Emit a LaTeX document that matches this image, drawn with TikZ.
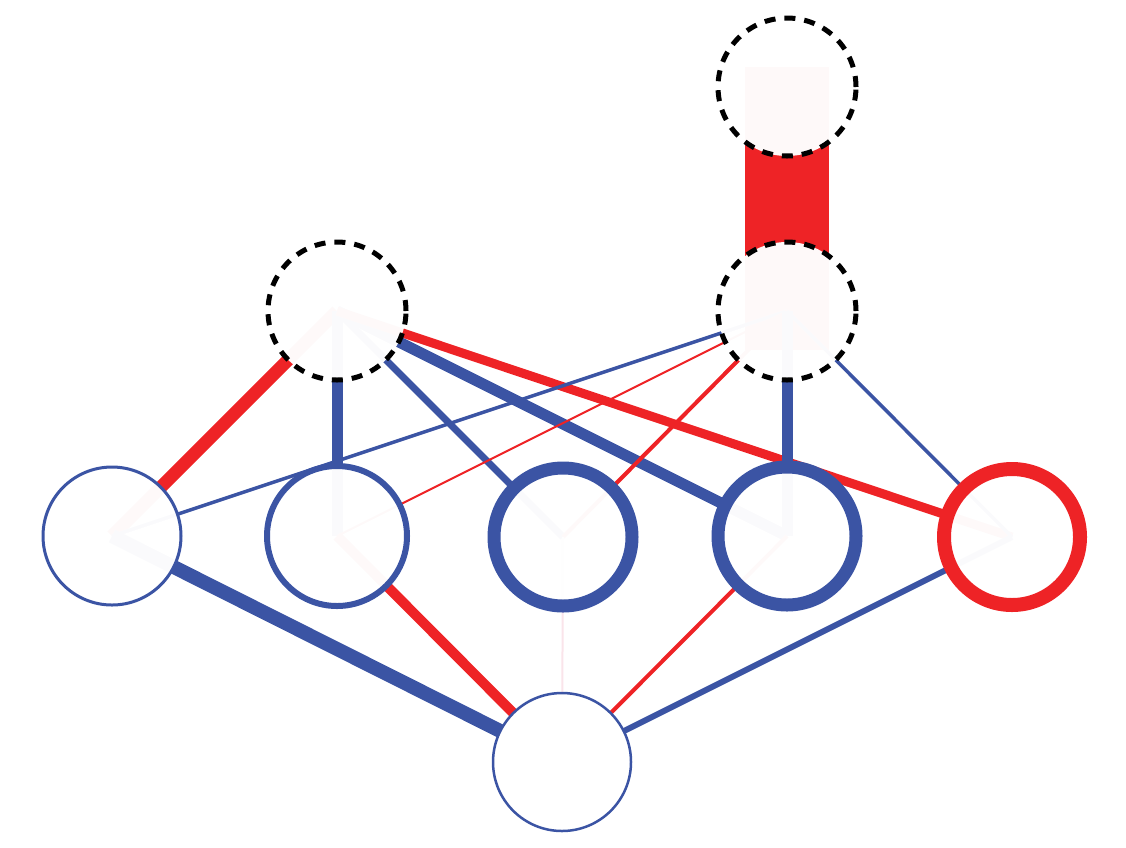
\documentclass[tikz,border=0pt]{standalone}
\usetikzlibrary{backgrounds}
\definecolor{nblue}{RGB}{59,84,164}
\definecolor{nred}{RGB}{238,35,38}
\definecolor{faint}{RGB}{250,228,234}
\begin{document}
\begin{tikzpicture}[x=1pt,y=-1pt,
  unit/.style={circle,inner sep=0pt,minimum size=138pt,fill=white,fill opacity=0.975,draw opacity=1},
  hidden/.style={unit,draw=black,line width=5pt,dash pattern=on 11pt off 9pt},
  edge/.style={line cap=butt}]
\useasboundingbox (0,0) rectangle (1126,847);
% hidden units
\node[hidden] (h3) at (787,87) {};
\node[hidden] (h2) at (787,311) {};
\node[hidden] (h1) at (337,311) {};
% visible units
\node[unit,draw=nblue,line width=3pt] (v1) at (112,536) {};
\node[unit,draw=nblue,line width=6pt,minimum size=140pt] (v2) at (337,536) {};
\node[unit,draw=nblue,line width=13pt] (v3) at (563,537) {};
\node[unit,draw=nblue,line width=13pt] (v4) at (787,536) {};
\node[unit,draw=nred,line width=14pt,minimum size=136pt] (v5) at (1012,537) {};
\node[unit,draw=nblue,line width=2.5pt,fill opacity=1] (b) at (562,762) {};
\begin{scope}[on background layer]
  \draw[edge,nred,line width=84pt,shorten <=-20pt,shorten >=-39pt] (h3.center) -- (h2.center);
  % from h1
  \draw[edge,nred,line width=13pt] (h1.center) -- (v1.center);
  \draw[edge,nblue,line width=11pt] (h1.center) -- (v2.center);
  \draw[edge,nblue,line width=7pt] (h1.center) -- (v3.center);
  \draw[edge,nblue,line width=11pt] (h1.center) -- (v4.center);
  \draw[edge,nred,line width=9pt] (h1.center) -- (v5.center);
  % from h2
  \draw[edge,nblue,line width=3.5pt] (h2.center) -- (v1.center);
  \draw[edge,nred,line width=2pt] (h2.center) -- (v2.center);
  \draw[edge,nred,line width=4pt] (h2.center) -- (v3.center);
  \draw[edge,nblue,line width=11pt] (h2.center) -- (v4.center);
  \draw[edge,nblue,line width=3.5pt] (h2.center) -- (v5.center);
  % from bottom
  \draw[edge,nblue,line width=14pt] (b.center) -- (v1.center);
  \draw[edge,nred,line width=10pt] (b.center) -- (v2.center);
  \draw[edge,faint,line width=2pt] (b.center) -- (v3.center);
  \draw[edge,nred,line width=4pt] (b.center) -- (v4.center);
  \draw[edge,nblue,line width=6pt] (b.center) -- (v5.center);
\end{scope}
\end{tikzpicture}
\end{document}
